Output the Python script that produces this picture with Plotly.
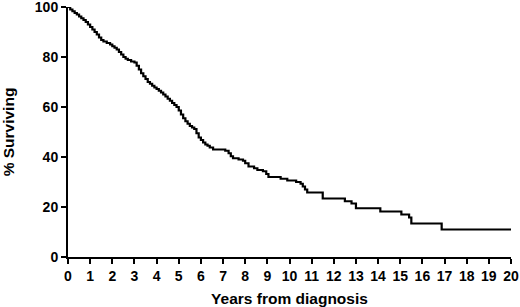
import plotly.graph_objects as go

# Kaplan-Meier style survival estimate
years = [0, 0.1, 0.2, 0.3, 0.4, 0.5, 0.6, 0.7, 0.8, 0.9, 1.0, 1.1, 1.2, 1.3, 1.4,
         1.5, 1.6, 1.75, 1.9, 2.0, 2.1, 2.2, 2.3, 2.4, 2.5, 2.6, 2.7, 2.85, 3.0,
         3.1, 3.2, 3.3, 3.4, 3.5, 3.6, 3.7, 3.8, 3.9, 4.0, 4.1, 4.2, 4.3, 4.4,
         4.5, 4.6, 4.7, 4.8, 4.9, 5.0, 5.1, 5.2, 5.3, 5.4, 5.5, 5.6, 5.7, 5.8,
         5.9, 6.0, 6.1, 6.2, 6.3, 6.4, 6.55, 7.1, 7.25, 7.35, 7.45, 7.7, 7.9,
         8.0, 8.15, 8.4, 8.55, 8.8, 8.95, 9.05, 9.6, 9.9, 10.3, 10.5, 10.6, 10.7,
         10.8, 11.5, 12.5, 12.8, 13.0, 14.1, 15.05, 15.4, 15.5, 16.87, 20.0]
surviving = [100, 99, 98.3, 97.6, 97, 96.2, 95.5, 94.8, 94, 93, 92, 91, 90, 89, 87.8,
             86.8, 86.2, 85.6, 85, 84.3, 83.7, 83, 82, 81, 80, 79.3, 78.8, 78.2, 77.8,
             76.5, 75, 73.5, 72.3, 71.2, 70, 69.3, 68.5, 67.8, 67.2, 66.5, 65.8, 65, 64.2,
             63.3, 62.5, 61.6, 60.8, 60, 58.6, 57, 55.5, 54.3, 53.3, 52.4, 51.8, 51.2, 49.5,
             47.8, 46.8, 45.8, 45, 44.5, 43.8, 43, 42.5, 41.5, 40.3, 39.5, 39, 38.5,
             37.5, 36.2, 35.5, 34.8, 34.3, 33.2, 32, 31.3, 30.6, 30.0, 29.3, 28.2, 27,
             25.8, 23.4, 22.3, 21.4, 19.5, 18.2, 17.0, 15.8, 13.4, 11.0, 11.0]

x_ticks = list(range(0, 21))
y_ticks = [0, 20, 40, 60, 80, 100]

font_family = "Liberation Sans, Arial, sans-serif"

fig = go.Figure()
fig.add_trace(go.Scatter(
    x=years, y=surviving, mode="lines",
    line=dict(color="black", width=2.2, shape="hv"),
    showlegend=False, hoverinfo="skip",
))

fig.update_layout(
    width=520, height=307,
    margin=dict(l=68, r=9, t=7, b=50),
    paper_bgcolor="white", plot_bgcolor="white",
    font=dict(family=font_family, color="black", size=14, weight="bold"),
    xaxis=dict(
        range=[0, 20], tickvals=x_ticks, ticktext=[str(v) for v in x_ticks],
        showline=True, linecolor="black", linewidth=2,
        ticks="outside", ticklen=5, tickwidth=2, tickcolor="black",
        showgrid=False, zeroline=False, ticklabeloverflow="allow",
        tickfont=dict(family=font_family, size=14, weight="bold"),
        title=dict(text="Years from diagnosis", standoff=11,
                   font=dict(family=font_family, size=15.5, weight="bold")),
        automargin=False,
    ),
    yaxis=dict(
        range=[0, 100], tickvals=y_ticks,
        showline=True, linecolor="black", linewidth=2,
        ticks="outside", ticklen=5, tickwidth=2, tickcolor="black",
        showgrid=False, zeroline=False, ticklabeloverflow="allow",
        tickfont=dict(family=font_family, size=14, weight="bold"),
        title=dict(text="% Surviving", standoff=24,
                   font=dict(family=font_family, size=15.5, weight="bold")),
        automargin=False,
    ),
)

fig.write_html("out.html", config={"displayModeBar": False},
               post_script="document.body.style.margin='0';")
